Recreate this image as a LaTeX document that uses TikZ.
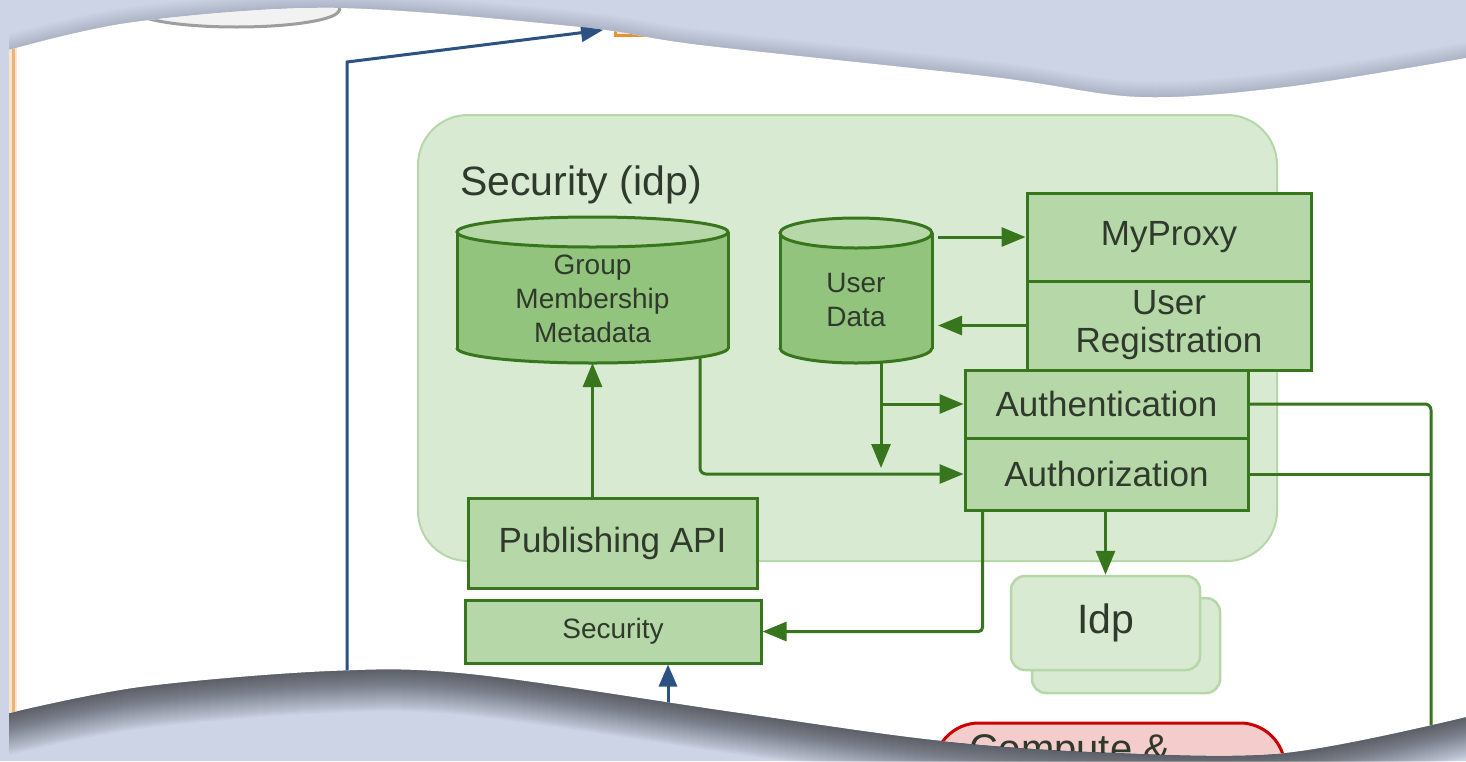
\documentclass[tikz,border=0pt]{standalone}
\usepackage{fontspec}
\setmainfont{Liberation Sans}
\usetikzlibrary{arrows.meta}

\definecolor{bg}{HTML}{CDD4E6}
\definecolor{pale}{HTML}{D9EAD3}
\definecolor{lightgr}{HTML}{B6D7A8}
\definecolor{midgr}{HTML}{93C47D}
\definecolor{dkgreen}{HTML}{38761D}
\definecolor{ink}{HTML}{2F3A2C}
\definecolor{navy}{HTML}{2B5283}
\definecolor{redline}{HTML}{CC0000}
\definecolor{pink}{HTML}{F4CCCC}
\definecolor{orline}{HTML}{E69138}
\definecolor{peach}{HTML}{FCE5CD}
\definecolor{greyfill}{HTML}{F2F2F2}
\definecolor{greyline}{HTML}{9E9E9E}

% outline of the sheet of paper (wavy top and bottom edges)
\def\paperpath{plot[smooth, tension=0.55] coordinates {(9,50) (134,22) (335,8) (580,27) (700,45) (993,77) (1140,97) (1286,87) (1466,58)}
  -- (1466,717)
  -- plot[smooth, tension=0.55] coordinates {(1466,717) (1284,753) (1100,752) (934,740) (733,712) (470,674) (330,671) (140,687) (9,713)}
  -- cycle}

% drum (database) shape: cx, rx, top y, bottom y, ry, body, top, line
\newcommand\drumshape[8]{%
  \fill[#6] ({#1-#2},#3) rectangle ({#1+#2},#4);
  \fill[#6] (#1,#4) ellipse [x radius=#2, y radius=#5];
  \begin{scope}
    \clip ({#1-#2-6},#4) rectangle ({#1+#2+6},{#4+#5+6});
    \draw[#8, line width=3pt] (#1,#4) ellipse [x radius=#2, y radius=#5];
  \end{scope}
  \draw[#8, line width=3pt] ({#1-#2},#3) -- ({#1-#2},{#4+1}) ({#1+#2},#3) -- ({#1+#2},{#4+1});
  \filldraw[fill=#7, draw=#8, line width=3pt] (#1,#3) ellipse [x radius=#2, y radius=#5];
}

\begin{document}
\begin{tikzpicture}[x=1pt, y=-1pt,
  box/.style={rectangle, draw=dkgreen, fill=lightgr, line width=3pt, inner sep=0pt, align=center, text=ink},
  bigtext/.style={font=\fontsize{35}{38}\selectfont},
  smalltext/.style={font=\fontsize{28}{34}\selectfont, text=ink, align=center},
  hitbox/.style={rectangle, inner sep=0pt, outer sep=0pt},
  container/.style={rectangle, rounded corners=50pt, fill=pale, draw=lightgr, line width=2pt, inner sep=0pt},
  idpbox/.style={rectangle, rounded corners=14pt, fill=pale, draw=lightgr, line width=2.5pt, inner sep=0pt, text=ink, font=\fontsize{41}{44}\selectfont},
  gline/.style={draw=dkgreen, line width=3pt},
  garrow/.style={gline, -{Triangle[length=24pt, width=19pt]}},
  barrow/.style={draw=navy, line width=3pt, -{Triangle[length=22pt, width=18pt]}}
]
% page and background
\useasboundingbox (0,0) rectangle (1466,761);
\fill[bg] (0,0) rectangle (1466,761);

% soft shadows around the curled sheet
\foreach \k in {1,...,16} {
  \fill[black, opacity=0.006, yshift=\k pt] \paperpath;
}
\foreach \k in {1,...,42} {
  \fill[black, opacity=0.015, yshift=-\k pt] \paperpath;
}
\fill[white] \paperpath;

\begin{scope}
\clip \paperpath;

% fragments of neighbouring parts of the diagram
\fill[peach] (9,0) rectangle (17,761);
\draw[orline!70, line width=3pt] (13,0) -- (13,761);
\node[rectangle, draw=orline, fill=peach, line width=3pt, minimum width=220pt, minimum height=100pt, anchor=south west] (ob) at (614,37) {};
\drumshape{236.5}{102.5}{-40}{10}{17}{greyfill}{greyfill}{greyline}

% Security (idp) group
\node[container, minimum width=859pt, minimum height=446pt] (sidp) at (847.5,338) {};
\node[anchor=base west, font=\fontsize{41}{44}\selectfont, text=ink, inner sep=0pt] (sidptitle) at (460,195) {Security (idp)};

% data stores
\drumshape{592.5}{135.5}{232}{348}{15}{midgr}{lightgr}{dkgreen}
\drumshape{856}{76}{233}{348}{15}{midgr}{lightgr}{dkgreen}
\node[hitbox, minimum width=271pt, minimum height=146pt] (gm) at (592.5,290) {};
\node[hitbox, minimum width=152pt, minimum height=145pt] (ud) at (856,290.5) {};
\node[smalltext] (gmtext) at (592.5,299) {Group\\Membership\\Metadata};
\node[smalltext] (udtext) at (856,299.5) {User\\Data};

% services
\node[box, bigtext, minimum width=284pt, minimum height=88pt] (mp) at (1169,237) {MyProxy};
\node[box, bigtext, minimum width=284pt, minimum height=89pt] (ur) at (1169,325.5) {User\\Registration};
\node[box, bigtext, minimum width=283pt, minimum height=68pt] (an) at (1106.5,404) {Authentication};
\node[box, bigtext, minimum width=283pt, minimum height=72pt] (az) at (1106.5,474) {Authorization};
\node[box, bigtext, minimum width=289pt, minimum height=90pt] (pa) at (612.5,543) {Publishing API};
\node[box, font=\fontsize{28}{34}\selectfont, minimum width=296pt, minimum height=63pt] (sec) at (613,631.5) {Security};

% identity providers (stacked)
\node[idpbox, minimum width=188pt, minimum height=95pt] (idpb) at (1126,645.5) {};
\node[idpbox, minimum width=189pt, minimum height=94pt] (idp) at (1105.5,623) {Idp};

% compute & storage
\node[rectangle, rounded corners=45pt, draw=redline, fill=pink, line width=3pt, minimum width=351pt, minimum height=150pt] (cmp) at (1109.5,798) {};
\node[anchor=base, font=\fontsize{40}{44}\selectfont, text=ink, inner sep=0pt] (cmptext) at (1070,762) {Compute \&};

% green connectors
\draw[garrow, shorten <=6pt] (ud.east |- mp.west) -- (mp.west);
\draw[garrow, shorten >=6pt] (ur.west) -- (ur.west -| ud.east);
\draw[garrow, shorten >=6pt] ([xshift=25pt]ud.south) -- ([xshift=25pt]ud.south |- az.west);
\draw[garrow] ([xshift=25pt]ud.south |- an.west) -- (an.west);
\draw[garrow, rounded corners=6pt] ([xshift=107.5pt, yshift=6pt]gm.south) |- (az.west);
\draw[garrow] (gm.south |- pa.north) -- (gm.south);
\draw[garrow] (idp.north |- az.south) -- (idp.north);
\draw[garrow, rounded corners=4pt] ([xshift=19pt]az.south west) |- (sec.east);
\coordinate (rbus) at (1431,750);
\draw[gline, rounded corners=6pt] (an.east) -| (rbus);
\draw[gline] (az.east) -- (az.east -| rbus);

% blue connectors
\coordinate (bstart) at (347,730);
\coordinate (bbend) at (347,62);
\coordinate (btip) at (603,30);
\draw[barrow] (bstart) -- (bbend) -- (btip);
\coordinate (bstart2) at (668,730);
\draw[barrow] (bstart2) -- (bstart2 |- sec.south);
\end{scope}
\end{tikzpicture}
\end{document}
